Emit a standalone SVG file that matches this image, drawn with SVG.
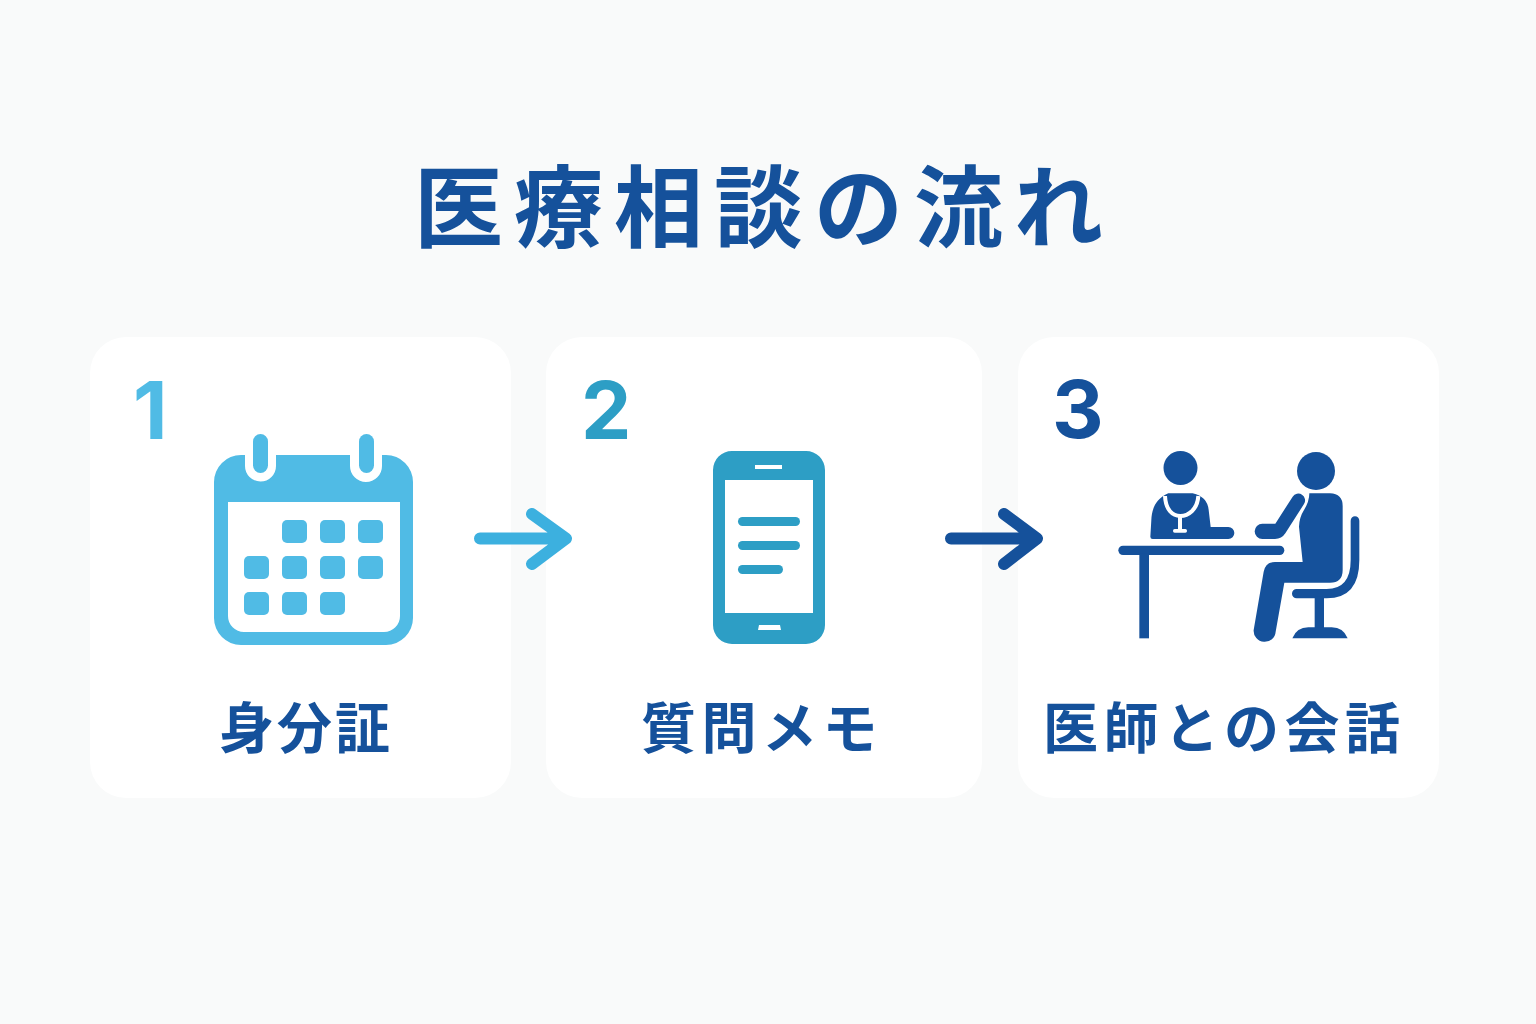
<svg xmlns="http://www.w3.org/2000/svg" width="1536" height="1024" viewBox="0 0 1536 1024">
<style>
.t{font-family:"Noto Sans CJK JP","Noto Sans",sans-serif;font-weight:700;fill:#15519b}
.n{font-family:Inter,"Noto Sans",sans-serif;font-weight:700;font-size:80px}
.l{font-size:55px;letter-spacing:5.5px}
.card{fill:#fff}
.cal{fill:#50bbe5}
.ph{fill:#2d9ec5}
.dk{fill:#15519b}
.w{fill:#fff}
</style>
<rect width="1536" height="1024" fill="#f9fafa"/>
<text id="title" class="t" x="414" y="240" font-size="89" font-weight="900" letter-spacing="11">医療相談の流れ</text>
<g id="step1">
<rect class="card" x="90" y="337" width="421" height="461" rx="36"/>
<text class="n" x="133" y="439" fill="#50bbe5">1</text>
<g class="cal">
<path fill-rule="evenodd" d="M214 482a27 27 0 0 1 27-27h4v11a15.500 15.500 0 0 0 31 0v-11h74v11a16 16 0 0 0 32 0v-11h4a27 27 0 0 1 27 27v136a27 27 0 0 1-27 27H241a27 27 0 0 1-27-27ZM228 502v114a16 16 0 0 0 16 16h140a16 16 0 0 0 16-16V502Z"/>
<rect x="253" y="434" width="15" height="39" rx="7.500"/><rect x="359" y="434" width="15" height="39" rx="7.500"/>
<rect x="282" y="520" width="25" height="23" rx="5"/><rect x="320" y="520" width="25" height="23" rx="5"/><rect x="358" y="520" width="25" height="23" rx="5"/>
<rect x="244" y="556" width="25" height="23" rx="5"/><rect x="282" y="556" width="25" height="23" rx="5"/><rect x="320" y="556" width="25" height="23" rx="5"/><rect x="358" y="556" width="25" height="23" rx="5"/>
<rect x="244" y="592" width="25" height="23" rx="5"/><rect x="282" y="592" width="25" height="23" rx="5"/><rect x="320" y="592" width="25" height="23" rx="5"/>
</g>
<text class="t l" x="219" y="748" style="letter-spacing:3px">身分証</text>
</g>
<g id="step2">
<rect class="card" x="546" y="337" width="436" height="461" rx="36"/>
<text class="n" x="581" y="439" fill="#2d9ec5">2</text>
<g class="ph">
<path fill-rule="evenodd" d="M713 470a19 19 0 0 1 19-19h74a19 19 0 0 1 19 19v155a19 19 0 0 1-19 19H732a19 19 0 0 1-19-19ZM725 480v133h88V480ZM755 465v4h27v-4ZM759 625l-1 5h23l-1-5Z"/>
<rect x="738" y="517" width="62" height="9" rx="4.500"/><rect x="738" y="541" width="62" height="9" rx="4.500"/><rect x="738" y="565" width="45" height="9" rx="4.500"/>
</g>
<text class="t l" x="641" y="748">質問メモ</text>
</g>
<g id="step3">
<rect class="card" x="1018" y="337" width="421" height="461" rx="36"/>
<text class="n" x="1052" y="438" fill="#15519b">3</text>
<g class="dk">
<circle cx="1180.500" cy="468" r="17"/><circle cx="1316" cy="471" r="19"/>
<g transform="translate(1100 430) scale(.33333)">
<path d="M205 190H278Q322 200 326 240L332 291H385a18 18 0 0 1 0 36H158Q151 327 151 320L154 270C155 240 165 208 205 190Z"/>
<path d="M195 198C197 240 218 258 241 258C264 258 292 240 295 198" fill="none" stroke="#fff" stroke-width="12"/>
<rect class="w" x="234" y="254" width="12" height="46"/><rect class="w" x="219" y="297" width="42" height="11" rx="5"/>
<rect x="55" y="347" width="498" height="28" rx="14"/>
<rect x="118" y="370" width="29" height="255"/>
<path d="M487 281H526L578 200a20 20 0 0 1 34 22L556 310Q545 327 525 327H487a23 23 0 0 1 0-46Z"/>
<path d="M628 190H690Q728 192 728 228V420Q728 458 690 458H553L527 605a33 33 0 0 1-66-5L491 425Q497 396 525 396H608L597 290Q598 262 612 240Q628 215 628 190Z"/>
<path d="M752 272a13 13 0 0 1 26 0V390Q778 505 680 505H590a14 14 0 0 1 0-28H680Q752 477 752 390Z"/>
<rect x="644" y="500" width="28" height="100"/>
<path d="M577 625Q590 592 625 592H695Q730 592 743 625Z"/>
</g>
</g>
<text class="t l" x="1043" y="748">医師との会話</text>
</g>
<g id="connectors" fill="none" stroke-width="12" stroke-linecap="round" stroke-linejoin="round">
<path d="M480 538.500H564M532 514L566 538.500L532 564" stroke="#3cb0df"/>
<path d="M951 538.500H1035M1004 514L1037 538.500L1004 564" stroke="#15519b"/>
</g>
</svg>
